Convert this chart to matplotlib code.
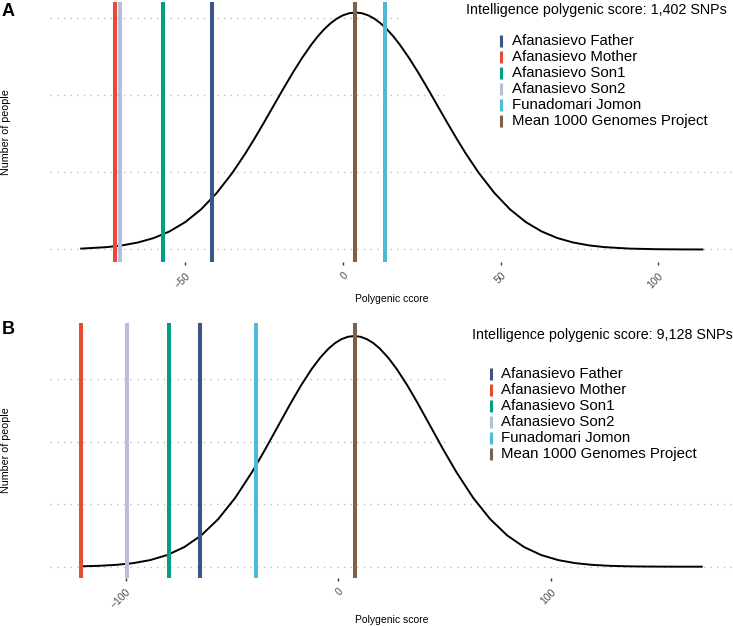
import numpy as np
import matplotlib
matplotlib.use("Agg")
import matplotlib.pyplot as plt
import matplotlib.transforms as mtransforms
from matplotlib.patches import Rectangle
from matplotlib.lines import Line2D

plt.rcParams['font.family'] = ['Liberation Sans', 'DejaVu Sans']

# Datos

labels = ["Afanasievo Father", "Afanasievo Mother", "Afanasievo Son1",
          "Afanasievo Son2", "Funadomari Jomon", "Mean 1000 Genomes Project"]
colors = ["#3C5488", "#E64B35", "#00A087", "#B6BFDA", "#4DBBD5", "#7E6148"]

# Panel A: 1,402 SNPs
scores_a = [-41.6, -72.4, -57.2, -70.6, 13.3, 3.9]
dens_x_a = [-83, -75, -70, -65, -60, -55, -50, -45, -40, -35,
            -31, -28, -25, -22, -19, -16, -13, -10, -8, -6,
            -4, -2, 0, 2, 4, 6, 8, 10, 12, 14,
            16, 18, 21, 24, 27, 30, 33, 36, 39, 43,
            48, 53, 58, 63, 68, 73, 78, 83, 91, 100,
            108, 114]
dens_y_a = [0.000057, 0.000152, 0.000267, 0.000454, 0.000741, 0.001169, 0.001775, 0.002597, 0.003665, 0.004981,
            0.006199, 0.007193, 0.008236, 0.009304, 0.010373, 0.011411, 0.012387, 0.013269, 0.013791, 0.014246,
            0.014631, 0.014937, 0.015159, 0.015295, 0.01534, 0.015295, 0.015159, 0.014937, 0.014631, 0.014246,
            0.013791, 0.013269, 0.012387, 0.011411, 0.010373, 0.009304, 0.008236, 0.007193, 0.006199, 0.004981,
            0.003665, 0.002597, 0.001775, 0.001169, 0.000741, 0.000454, 0.000267, 0.000152, 0.000057, 0.000017,
            0.000005, 0.000002]
ticks_a = [-50, 0, 50, 100]
grid_a = [0, 0.005, 0.010, 0.015]

# Panel B: 9,128 SNPs
scores_b = [-65.2, -121.0, -79.8, -99.5, -38.6, 7.7]
dens_x_b = [-121, -112.5, -104.5, -96.5, -88.5, -80.5, -72.5, -64.5, -56.5, -48.5,
            -40.5, -34.5, -28.5, -22.5, -17.5, -12.5, -8.5, -4.5, -1.5, 1.5,
            4.5, 7.5, 10.5, 13.5, 16.5, 19.5, 23.5, 27.5, 32.5, 37.5,
            43.5, 49.5, 55.5, 63.5, 71.5, 79.5, 87.5, 95.5, 103.5, 111.5,
            119.5, 127.5, 135.5, 143.5, 151.5, 159.5, 171]
dens_y_b = [0.000019, 0.000043, 0.000088, 0.000171, 0.000317, 0.000559, 0.000939, 0.0015, 0.002282, 0.003304,
            0.004555, 0.00561, 0.00672, 0.00783, 0.008707, 0.009496, 0.010037, 0.010481, 0.010739, 0.010927,
            0.011042, 0.01108, 0.011042, 0.010927, 0.010739, 0.010481, 0.010037, 0.009496, 0.008707, 0.00783,
            0.00672, 0.00561, 0.004555, 0.003304, 0.002282, 0.0015, 0.000939, 0.000559, 0.000317, 0.000171,
            0.000088, 0.000043, 0.00002, 0.000009, 0.000004, 0.0000015, 0.0000004]
ticks_b = [-100, 0, 100]
grid_b = [0, 0.003, 0.006, 0.009]

W, H = 733, 626
fig = plt.figure(figsize=(W / 100, H / 100), dpi=100)
# coordenadas en pixeles, origen arriba a la izquierda
px = mtransforms.Affine2D().scale(1 / W, -1 / H).translate(0, 1) + fig.transFigure


def panel(top, bottom, xlim, ylim, scores, dx, dy, ticks, grid, title, title_x, title_y,
          xlabel, xlabel_y, letter, letter_y, cover, key_x, text_x, row0):
    ax = fig.add_axes([50 / W, 1 - bottom / H, 683 / W, (bottom - top) / H])
    ax.set_xlim(xlim)
    ax.set_ylim(ylim)
    for s in ax.spines.values():
        s.set_visible(False)
    ax.set_yticks(grid)
    ax.yaxis.grid(True, color="#BDBDBD", lw=1.0, linestyle=(0, (1, 3.8)))
    ax.set_axisbelow(True)
    ax.tick_params(axis="y", length=0, labelleft=False)
    ax.set_xticks(ticks)
    ax.set_xticklabels([str(t).replace("-", "\u2212") for t in ticks],
                       rotation=45, ha="right", va="top", rotation_mode="anchor")
    ax.tick_params(axis="x", length=2.4, width=1.0, color="#333333", pad=4,
                   labelsize=7.5, labelcolor="#4D4D4D")

    # cajas blancas del titulo y la leyenda
    for (x0, y0, x1, y1) in cover:
        ax.add_patch(Rectangle((x0, y0), x1 - x0, y1 - y0, transform=px,
                               facecolor="white", edgecolor="none", zorder=1))

    ax.plot(dx, dy, color="black", lw=1.4, zorder=3)
    for sc, c in zip(scores, colors):
        ax.axvline(sc, color=c, lw=2.9, zorder=4)

    fig.text(title_x / W, 1 - title_y / H, title, ha="right", va="center", fontsize=10.3)
    for i, (lab, c) in enumerate(zip(labels, colors)):
        yy = row0 + 16 * i
        fig.add_artist(Line2D([key_x, key_x], [yy - 6, yy + 6], transform=px,
                              color=c, lw=2.2, solid_capstyle="butt"))
        fig.text(text_x / W, 1 - yy / H, lab, ha="left", va="center", fontsize=10.8)

    fig.text(391.5 / W, 1 - xlabel_y / H, xlabel, ha="center", va="center", fontsize=7.5)
    fig.text(6.5 / W, 1 - (top + bottom) / 2 / H, "Number of people", rotation=90,
             ha="center", va="center", fontsize=7.7)
    fig.text(2 / W, 1 - letter_y / H, letter, ha="left", va="top", fontsize=13,
             fontweight="bold")
    return ax


panel(1.7, 261.7, (-92.9, 123.7), (-0.00079, 0.01604), scores_a, dens_x_a, dens_y_a,
      ticks_a, grid_a, "Intelligence polygenic score: 1,402 SNPs", 727, 10,
      "Polygenic ccore", 299, "A", 3,
      [(403, 1.7, 733, 26), (445, 30, 733, 130)], 501, 511.5, 40.7)

panel(323.3, 577.7, (-135.6, 185.7), (-0.000528, 0.01169), scores_b, dens_x_b, dens_y_b,
      ticks_b, grid_b, "Intelligence polygenic score: 9,128 SNPs", 733, 335,
      "Polygenic score", 620, "B", 321.5,
      [(446, 362, 733, 462)], 490.7, 501.5, 374)

plt.savefig("out.png", dpi=100)
